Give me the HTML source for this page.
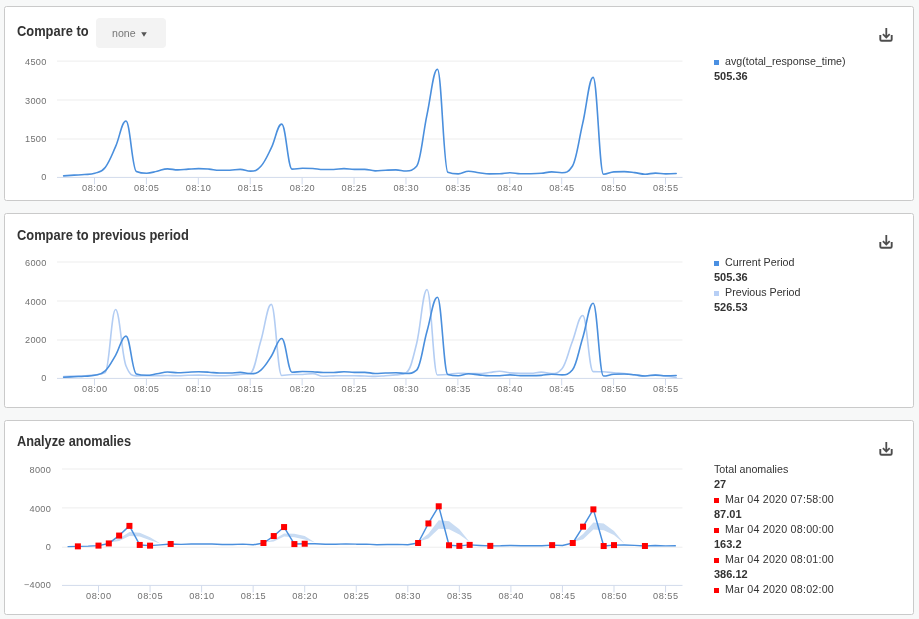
<!DOCTYPE html>
<html><head><meta charset="utf-8"><style>
html,body{margin:0;padding:0;}
body{width:919px;height:619px;background:#f7f8f8;position:relative;overflow:hidden;font-family:"Liberation Sans", sans-serif;}
.card{position:absolute;left:4px;width:908px;height:193px;background:#fff;border:1px solid #cacaca;border-radius:2.5px;}
.t{position:absolute;font-weight:bold;font-size:14px;color:#333;white-space:nowrap;transform-origin:0 0;}
.dd{position:absolute;left:96px;top:18px;width:70px;height:30px;background:#f3f3f3;border-radius:4px;}
.dd span{position:absolute;left:16px;top:9px;font-size:10.6px;color:#777;}
.dd i{position:absolute;left:45px;top:14px;width:0;height:0;border-left:2.8px solid transparent;border-right:2.8px solid transparent;border-top:4.6px solid #555;}
.lg{position:absolute;left:714px;font-size:10.7px;color:#333;line-height:15px;white-space:nowrap;}
.lg div{height:15px;position:relative;}
.lg b{font-size:11px;}
.sq{display:inline-block;width:5px;height:5px;margin-right:6px;vertical-align:0px;}
svg{position:absolute;left:0;top:0;}
.yl{font-size:9.2px;fill:#707070;letter-spacing:0.25px;}
.xl{font-size:9.2px;fill:#707070;letter-spacing:0.5px;}
#w{position:absolute;left:0;top:0;width:919px;height:619px;will-change:transform;background:#f7f8f8;}
</style></head><body><div id="w">
<div class="card" style="top:6px"></div>
<div class="card" style="top:213px"></div>
<div class="card" style="top:420px"></div>
<div class="t" style="left:17px;top:23px;transform:scaleX(0.92)">Compare to</div>
<div class="dd"><span>none</span><svg width="70" height="30" style="position:absolute;left:0;top:0"><polygon points="45.2,14.2 50.8,14.2 48,18.8" fill="#555"/></svg></div>
<div class="t" style="left:17px;top:226.6px;transform:scaleX(0.92)">Compare to previous period</div>
<div class="t" style="left:17px;top:433.3px;transform:scaleX(0.91)">Analyze anomalies</div>
<div class="lg" style="top:54px">
<div><span class="sq" style="background:#4a90e2"></span>avg(total_response_time)</div>
<div><b>505.36</b></div>
</div>
<div class="lg" style="top:255px">
<div><span class="sq" style="background:#4a90e2"></span>Current Period</div>
<div><b>505.36</b></div>
<div><span class="sq" style="background:#b7cff5"></span>Previous Period</div>
<div><b>526.53</b></div>
</div>
<div class="lg" style="top:462px">
<div>Total anomalies</div>
<div><b>27</b></div>
<div style="letter-spacing:0.22px"><span class="sq" style="background:#f00"></span>Mar 04 2020 07:58:00</div>
<div><b>87.01</b></div>
<div style="letter-spacing:0.22px"><span class="sq" style="background:#f00"></span>Mar 04 2020 08:00:00</div>
<div><b>163.2</b></div>
<div style="letter-spacing:0.22px"><span class="sq" style="background:#f00"></span>Mar 04 2020 08:01:00</div>
<div><b>386.12</b></div>
<div style="letter-spacing:0.22px"><span class="sq" style="background:#f00"></span>Mar 04 2020 08:02:00</div>
</div>
<svg width="919" height="619" viewBox="0 0 919 619" font-family='"Liberation Sans", sans-serif'>
<rect x="57.00" y="138.50" width="625.50" height="1" fill="#ededed"/>
<rect x="57.00" y="99.50" width="625.50" height="1" fill="#ededed"/>
<rect x="57.00" y="60.60" width="625.50" height="1" fill="#ededed"/>
<rect x="57.00" y="176.90" width="625.50" height="1" fill="#d2dbec"/>
<text x="46.50" y="179.80" text-anchor="end" class="yl">0</text>
<text x="46.50" y="142.10" text-anchor="end" class="yl">1500</text>
<text x="46.50" y="104.00" text-anchor="end" class="yl">3000</text>
<text x="46.50" y="64.80" text-anchor="end" class="yl">4500</text>
<rect x="94.00" y="177.40" width="1" height="7" fill="#d2dbec"/>
<text x="94.80" y="191.00" text-anchor="middle" class="xl">08:00</text>
<rect x="145.91" y="177.40" width="1" height="7" fill="#d2dbec"/>
<text x="146.71" y="191.00" text-anchor="middle" class="xl">08:05</text>
<rect x="197.82" y="177.40" width="1" height="7" fill="#d2dbec"/>
<text x="198.62" y="191.00" text-anchor="middle" class="xl">08:10</text>
<rect x="249.73" y="177.40" width="1" height="7" fill="#d2dbec"/>
<text x="250.53" y="191.00" text-anchor="middle" class="xl">08:15</text>
<rect x="301.64" y="177.40" width="1" height="7" fill="#d2dbec"/>
<text x="302.44" y="191.00" text-anchor="middle" class="xl">08:20</text>
<rect x="353.55" y="177.40" width="1" height="7" fill="#d2dbec"/>
<text x="354.35" y="191.00" text-anchor="middle" class="xl">08:25</text>
<rect x="405.46" y="177.40" width="1" height="7" fill="#d2dbec"/>
<text x="406.26" y="191.00" text-anchor="middle" class="xl">08:30</text>
<rect x="457.37" y="177.40" width="1" height="7" fill="#d2dbec"/>
<text x="458.17" y="191.00" text-anchor="middle" class="xl">08:35</text>
<rect x="509.28" y="177.40" width="1" height="7" fill="#d2dbec"/>
<text x="510.08" y="191.00" text-anchor="middle" class="xl">08:40</text>
<rect x="561.19" y="177.40" width="1" height="7" fill="#d2dbec"/>
<text x="561.99" y="191.00" text-anchor="middle" class="xl">08:45</text>
<rect x="613.10" y="177.40" width="1" height="7" fill="#d2dbec"/>
<text x="613.90" y="191.00" text-anchor="middle" class="xl">08:50</text>
<rect x="665.01" y="177.40" width="1" height="7" fill="#d2dbec"/>
<text x="665.81" y="191.00" text-anchor="middle" class="xl">08:55</text>
<path d="M63.65 175.85 C63.65 175.85 69.88 175.41 74.04 175.15 C78.19 174.89 80.27 174.95 84.42 174.56 C88.57 174.16 90.65 174.56 94.80 173.19 C98.95 171.82 101.03 172.73 105.18 167.42 C109.33 162.12 111.41 155.92 115.56 146.65 C119.72 137.37 121.79 121.06 125.95 121.06 C130.10 121.06 132.18 169.65 136.33 171.46 C140.48 173.26 142.56 173.26 146.71 173.26 C150.86 173.26 152.94 172.08 157.09 171.20 C161.24 170.32 163.32 168.87 167.47 168.87 C171.63 168.87 173.70 169.91 177.86 169.91 C182.01 169.91 184.09 169.39 188.24 169.13 C192.39 168.87 194.47 168.61 198.62 168.61 C202.77 168.61 204.85 168.80 209.00 169.13 C213.15 169.46 215.23 170.24 219.38 170.24 C223.54 170.24 225.61 170.24 229.77 170.24 C233.92 170.24 236.00 169.34 240.15 169.34 C244.30 169.34 246.38 171.15 250.53 171.15 C254.68 171.15 256.76 170.93 260.91 166.29 C265.06 161.65 267.14 156.36 271.29 147.94 C275.45 139.51 277.52 124.16 281.68 124.16 C285.83 124.16 287.91 169.13 292.06 169.13 C296.21 169.13 298.29 168.23 302.44 168.23 C306.59 168.23 308.67 168.23 312.82 168.48 C316.97 168.74 319.05 169.52 323.20 169.52 C327.36 169.52 329.43 169.52 333.59 169.52 C337.74 169.52 339.82 168.61 343.97 168.61 C348.12 168.61 350.20 169.34 354.35 169.34 C358.50 169.34 360.58 169.34 364.73 169.34 C368.88 169.34 370.96 170.84 375.11 170.84 C379.27 170.84 381.34 170.43 385.50 170.24 C389.65 170.06 391.73 169.91 395.88 169.91 C400.03 169.91 402.11 170.94 406.26 170.94 C410.41 170.94 412.49 170.94 416.64 166.29 C420.79 161.64 422.87 134.01 427.02 114.60 C431.18 95.19 433.25 69.22 437.41 69.22 C441.56 69.22 443.64 170.71 447.79 172.31 C451.94 173.91 454.02 173.91 458.17 173.91 C462.32 173.91 464.40 171.30 468.55 171.30 C472.70 171.30 474.78 172.17 478.93 172.70 C483.09 173.22 485.16 173.91 489.32 173.91 C493.47 173.91 495.55 173.91 499.70 173.78 C503.85 173.65 505.93 172.70 510.08 172.70 C514.23 172.70 516.31 173.70 520.46 173.70 C524.61 173.70 526.69 173.70 530.84 173.70 C535.00 173.70 537.07 173.68 541.23 173.32 C545.38 172.95 547.46 171.90 551.61 171.90 C555.76 171.90 557.84 172.70 561.99 172.70 C566.14 172.70 568.22 172.70 572.37 166.29 C576.52 159.88 578.60 140.91 582.75 123.13 C586.91 105.35 588.98 77.38 593.14 77.38 C597.29 77.38 599.37 174.30 603.52 174.30 C607.67 174.30 609.75 172.10 613.90 171.84 C618.05 171.59 620.13 171.59 624.28 171.59 C628.43 171.59 630.51 172.07 634.66 172.59 C638.82 173.12 640.89 174.20 645.05 174.20 C649.20 174.20 651.28 173.08 655.43 173.08 C659.58 173.08 661.66 173.89 665.81 173.89 C669.96 173.89 676.19 173.50 676.19 173.50" fill="none" stroke="#4a8fdd" stroke-width="1.6" stroke-linejoin="round" stroke-linecap="round"/>
<rect x="57.00" y="339.50" width="625.50" height="1" fill="#ededed"/>
<rect x="57.00" y="300.50" width="625.50" height="1" fill="#ededed"/>
<rect x="57.00" y="261.50" width="625.50" height="1" fill="#ededed"/>
<rect x="57.00" y="377.90" width="625.50" height="1" fill="#d2dbec"/>
<text x="46.50" y="380.80" text-anchor="end" class="yl">0</text>
<text x="46.50" y="343.10" text-anchor="end" class="yl">2000</text>
<text x="46.50" y="305.00" text-anchor="end" class="yl">4000</text>
<text x="46.50" y="265.80" text-anchor="end" class="yl">6000</text>
<rect x="94.00" y="378.40" width="1" height="7" fill="#d2dbec"/>
<text x="94.80" y="391.70" text-anchor="middle" class="xl">08:00</text>
<rect x="145.91" y="378.40" width="1" height="7" fill="#d2dbec"/>
<text x="146.71" y="391.70" text-anchor="middle" class="xl">08:05</text>
<rect x="197.82" y="378.40" width="1" height="7" fill="#d2dbec"/>
<text x="198.62" y="391.70" text-anchor="middle" class="xl">08:10</text>
<rect x="249.73" y="378.40" width="1" height="7" fill="#d2dbec"/>
<text x="250.53" y="391.70" text-anchor="middle" class="xl">08:15</text>
<rect x="301.64" y="378.40" width="1" height="7" fill="#d2dbec"/>
<text x="302.44" y="391.70" text-anchor="middle" class="xl">08:20</text>
<rect x="353.55" y="378.40" width="1" height="7" fill="#d2dbec"/>
<text x="354.35" y="391.70" text-anchor="middle" class="xl">08:25</text>
<rect x="405.46" y="378.40" width="1" height="7" fill="#d2dbec"/>
<text x="406.26" y="391.70" text-anchor="middle" class="xl">08:30</text>
<rect x="457.37" y="378.40" width="1" height="7" fill="#d2dbec"/>
<text x="458.17" y="391.70" text-anchor="middle" class="xl">08:35</text>
<rect x="509.28" y="378.40" width="1" height="7" fill="#d2dbec"/>
<text x="510.08" y="391.70" text-anchor="middle" class="xl">08:40</text>
<rect x="561.19" y="378.40" width="1" height="7" fill="#d2dbec"/>
<text x="561.99" y="391.70" text-anchor="middle" class="xl">08:45</text>
<rect x="613.10" y="378.40" width="1" height="7" fill="#d2dbec"/>
<text x="613.90" y="391.70" text-anchor="middle" class="xl">08:50</text>
<rect x="665.01" y="378.40" width="1" height="7" fill="#d2dbec"/>
<text x="665.81" y="391.70" text-anchor="middle" class="xl">08:55</text>
<path d="M63.65 376.65 C63.65 376.65 69.88 376.28 74.04 376.11 C78.19 375.94 80.27 376.06 84.42 375.80 C88.57 375.54 90.65 375.46 94.80 374.81 C98.95 374.17 101.03 374.81 105.18 372.58 C109.33 370.35 111.41 309.53 115.56 309.53 C119.72 309.53 121.79 355.70 125.95 365.79 C130.10 375.88 132.18 375.88 136.33 375.88 C140.48 375.88 142.56 375.59 146.71 375.59 C150.86 375.59 152.94 375.68 157.09 375.68 C161.24 375.68 163.32 375.49 167.47 375.49 C171.63 375.49 173.70 375.68 177.86 375.68 C182.01 375.68 184.09 375.41 188.24 375.30 C192.39 375.18 194.47 375.10 198.62 375.10 C202.77 375.10 204.85 375.37 209.00 375.49 C213.15 375.61 215.23 375.68 219.38 375.68 C223.54 375.68 225.61 375.68 229.77 375.49 C233.92 375.30 236.00 375.02 240.15 374.52 C244.30 374.02 246.38 374.52 250.53 372.97 C254.68 371.42 256.76 354.29 260.91 340.57 C265.06 326.85 267.14 304.39 271.29 304.39 C275.45 304.39 277.52 375.49 281.68 375.49 C285.83 375.49 287.91 374.52 292.06 374.52 C296.21 374.52 298.29 374.52 302.44 374.52 C306.59 374.52 308.67 373.61 312.82 373.61 C316.97 373.61 319.05 376.21 323.20 376.21 C327.36 376.21 329.43 375.98 333.59 375.88 C337.74 375.77 339.82 375.68 343.97 375.68 C348.12 375.68 350.20 375.72 354.35 375.80 C358.50 375.88 360.58 375.95 364.73 376.07 C368.88 376.19 370.96 376.40 375.11 376.40 C379.27 376.40 381.34 375.98 385.50 375.68 C389.65 375.39 391.73 375.53 395.88 374.91 C400.03 374.29 402.11 374.91 406.26 372.58 C410.41 370.25 412.49 360.11 416.64 343.48 C420.79 326.85 422.87 289.43 427.02 289.43 C431.18 289.43 433.25 375.00 437.41 375.00 C441.56 375.00 443.64 374.88 447.79 374.52 C451.94 374.16 454.02 373.22 458.17 373.22 C462.32 373.22 464.40 373.61 468.55 373.61 C472.70 373.61 474.78 373.61 478.93 373.55 C483.09 373.49 485.16 372.99 489.32 372.52 C493.47 372.06 495.55 371.22 499.70 371.22 C503.85 371.22 505.93 372.60 510.08 372.91 C514.23 373.22 516.31 373.22 520.46 373.22 C524.61 373.22 526.69 373.22 530.84 373.22 C535.00 373.22 537.07 372.11 541.23 372.11 C545.38 372.11 547.46 373.61 551.61 373.61 C555.76 373.61 557.84 373.61 561.99 368.70 C566.14 363.79 568.22 352.17 572.37 341.54 C576.52 330.91 578.60 315.56 582.75 315.56 C586.91 315.56 588.98 371.42 593.14 371.61 C597.29 371.80 599.37 371.61 603.52 371.80 C607.67 372.00 609.75 372.45 613.90 372.81 C618.05 373.17 620.13 373.17 624.28 373.61 C628.43 374.05 630.51 374.55 634.66 375.00 C638.82 375.46 640.89 375.90 645.05 375.90 C649.20 375.90 651.28 374.71 655.43 374.71 C659.58 374.71 661.66 375.55 665.81 376.11 C669.96 376.67 676.19 377.51 676.19 377.51" fill="none" stroke="#b3cdf3" stroke-width="1.6" stroke-linejoin="round" stroke-linecap="round"/>
<path d="M63.65 377.24 C63.65 377.24 69.88 376.91 74.04 376.71 C78.19 376.52 80.27 376.56 84.42 376.27 C88.57 375.97 90.65 376.27 94.80 375.24 C98.95 374.21 101.03 374.90 105.18 370.91 C109.33 366.93 111.41 362.27 115.56 355.31 C119.72 348.35 121.79 336.11 125.95 336.11 C130.10 336.11 132.18 372.58 136.33 373.94 C140.48 375.30 142.56 375.30 146.71 375.30 C150.86 375.30 152.94 374.40 157.09 373.74 C161.24 373.08 163.32 372.00 167.47 372.00 C171.63 372.00 173.70 372.77 177.86 372.77 C182.01 372.77 184.09 372.39 188.24 372.19 C192.39 372.00 194.47 371.80 198.62 371.80 C202.77 371.80 204.85 371.95 209.00 372.19 C213.15 372.44 215.23 373.03 219.38 373.03 C223.54 373.03 225.61 373.03 229.77 373.03 C233.92 373.03 236.00 372.35 240.15 372.35 C244.30 372.35 246.38 373.71 250.53 373.71 C254.68 373.71 256.76 373.54 260.91 370.06 C265.06 366.57 267.14 362.61 271.29 356.28 C275.45 349.96 277.52 338.44 281.68 338.44 C285.83 338.44 287.91 372.19 292.06 372.19 C296.21 372.19 298.29 371.51 302.44 371.51 C306.59 371.51 308.67 371.51 312.82 371.71 C316.97 371.90 319.05 372.48 323.20 372.48 C327.36 372.48 329.43 372.48 333.59 372.48 C337.74 372.48 339.82 371.80 343.97 371.80 C348.12 371.80 350.20 372.35 354.35 372.35 C358.50 372.35 360.58 372.35 364.73 372.35 C368.88 372.35 370.96 373.47 375.11 373.47 C379.27 373.47 381.34 373.17 385.50 373.03 C389.65 372.89 391.73 372.77 395.88 372.77 C400.03 372.77 402.11 373.55 406.26 373.55 C410.41 373.55 412.49 373.55 416.64 370.06 C420.79 366.57 422.87 345.83 427.02 331.26 C431.18 316.68 433.25 297.19 437.41 297.19 C441.56 297.19 443.64 373.38 447.79 374.58 C451.94 375.78 454.02 375.78 458.17 375.78 C462.32 375.78 464.40 373.82 468.55 373.82 C472.70 373.82 474.78 374.48 478.93 374.87 C483.09 375.26 485.16 375.78 489.32 375.78 C493.47 375.78 495.55 375.78 499.70 375.68 C503.85 375.59 505.93 374.87 510.08 374.87 C514.23 374.87 516.31 375.63 520.46 375.63 C524.61 375.63 526.69 375.63 530.84 375.63 C535.00 375.63 537.07 375.61 541.23 375.33 C545.38 375.06 547.46 374.27 551.61 374.27 C555.76 374.27 557.84 374.87 561.99 374.87 C566.14 374.87 568.22 374.87 572.37 370.06 C576.52 365.25 578.60 351.01 582.75 337.66 C586.91 324.31 588.98 303.32 593.14 303.32 C597.29 303.32 599.37 376.07 603.52 376.07 C607.67 376.07 609.75 374.42 613.90 374.23 C618.05 374.03 620.13 374.03 624.28 374.03 C628.43 374.03 630.51 374.40 634.66 374.79 C638.82 375.18 640.89 375.99 645.05 375.99 C649.20 375.99 651.28 375.16 655.43 375.16 C659.58 375.16 661.66 375.76 665.81 375.76 C669.96 375.76 676.19 375.47 676.19 375.47" fill="none" stroke="#4a8fdd" stroke-width="1.6" stroke-linejoin="round" stroke-linecap="round"/>
<rect x="62.00" y="546.70" width="620.50" height="1" fill="#ededed"/>
<rect x="62.00" y="507.40" width="620.50" height="1" fill="#ededed"/>
<rect x="62.00" y="468.50" width="620.50" height="1" fill="#ededed"/>
<rect x="62.00" y="584.90" width="620.50" height="1" fill="#d2dbec"/>
<text x="51.00" y="588.20" text-anchor="end" class="yl">−4000</text>
<text x="51.00" y="550.20" text-anchor="end" class="yl">0</text>
<text x="51.00" y="512.00" text-anchor="end" class="yl">4000</text>
<text x="51.00" y="473.20" text-anchor="end" class="yl">8000</text>
<rect x="98.00" y="585.40" width="1" height="7" fill="#d2dbec"/>
<text x="98.80" y="598.90" text-anchor="middle" class="xl">08:00</text>
<rect x="149.55" y="585.40" width="1" height="7" fill="#d2dbec"/>
<text x="150.35" y="598.90" text-anchor="middle" class="xl">08:05</text>
<rect x="201.10" y="585.40" width="1" height="7" fill="#d2dbec"/>
<text x="201.90" y="598.90" text-anchor="middle" class="xl">08:10</text>
<rect x="252.65" y="585.40" width="1" height="7" fill="#d2dbec"/>
<text x="253.45" y="598.90" text-anchor="middle" class="xl">08:15</text>
<rect x="304.20" y="585.40" width="1" height="7" fill="#d2dbec"/>
<text x="305.00" y="598.90" text-anchor="middle" class="xl">08:20</text>
<rect x="355.75" y="585.40" width="1" height="7" fill="#d2dbec"/>
<text x="356.55" y="598.90" text-anchor="middle" class="xl">08:25</text>
<rect x="407.30" y="585.40" width="1" height="7" fill="#d2dbec"/>
<text x="408.10" y="598.90" text-anchor="middle" class="xl">08:30</text>
<rect x="458.85" y="585.40" width="1" height="7" fill="#d2dbec"/>
<text x="459.65" y="598.90" text-anchor="middle" class="xl">08:35</text>
<rect x="510.40" y="585.40" width="1" height="7" fill="#d2dbec"/>
<text x="511.20" y="598.90" text-anchor="middle" class="xl">08:40</text>
<rect x="561.95" y="585.40" width="1" height="7" fill="#d2dbec"/>
<text x="562.75" y="598.90" text-anchor="middle" class="xl">08:45</text>
<rect x="613.50" y="585.40" width="1" height="7" fill="#d2dbec"/>
<text x="614.30" y="598.90" text-anchor="middle" class="xl">08:50</text>
<rect x="665.05" y="585.40" width="1" height="7" fill="#d2dbec"/>
<text x="665.85" y="598.90" text-anchor="middle" class="xl">08:55</text>
<polygon points="108.81,542.51 119.12,538.60 129.43,532.10 139.74,532.70 150.05,537.30 160.36,543.51 160.36,543.51 150.05,540.20 139.74,536.60 129.43,536.00 119.12,540.90 108.81,542.51" fill="#c9dcf3"/>
<polygon points="263.46,542.51 273.77,539.60 284.08,533.40 294.39,533.70 304.70,536.00 315.01,542.51 315.01,542.51 304.70,539.60 294.39,537.30 284.08,536.60 273.77,541.50 263.46,542.51" fill="#c9dcf3"/>
<polygon points="418.11,541.70 428.42,533.70 438.73,520.30 449.04,521.20 459.35,529.20 469.66,542.10 469.66,542.10 459.35,534.60 449.04,529.20 438.73,528.80 428.42,538.60 418.11,541.70" fill="#c9dcf3"/>
<polygon points="572.76,542.00 583.07,533.90 593.38,522.60 603.69,523.40 614.00,531.10 624.31,543.60 624.31,543.60 614.00,535.10 603.69,530.30 593.38,529.50 583.07,539.20 572.76,542.00" fill="#c9dcf3"/>
<polyline points="67.57,546.61 77.88,546.35 88.19,546.12 98.50,545.61 108.81,543.43 119.12,535.57 129.43,525.89 139.74,544.95 150.05,545.64 160.36,544.85 170.67,543.97 180.98,544.37 191.29,544.07 201.60,543.88 211.91,544.07 222.22,544.49 232.53,544.49 242.84,544.15 253.15,544.83 263.46,543.00 273.77,536.06 284.08,527.06 294.39,544.07 304.70,543.73 315.01,543.83 325.32,544.22 335.63,544.22 345.94,543.88 356.25,544.15 366.56,544.15 376.87,544.72 387.18,544.49 397.49,544.37 407.80,544.76 418.11,543.00 428.42,523.45 438.73,506.28 449.04,545.27 459.35,545.88 469.66,544.89 479.97,545.42 490.28,545.88 500.59,545.83 510.90,545.42 521.21,545.80 531.52,545.80 541.83,545.66 552.14,545.12 562.45,545.42 572.76,543.00 583.07,526.67 593.38,509.37 603.69,546.03 614.00,545.10 624.31,545.00 634.62,545.38 644.93,545.99 655.24,545.57 665.55,545.87 675.86,545.72" fill="none" stroke="#4a8fdd" stroke-width="1.45" stroke-linejoin="round"/>
<rect x="74.88" y="543.35" width="6" height="6" fill="#ff0000"/>
<rect x="95.50" y="542.61" width="6" height="6" fill="#ff0000"/>
<rect x="105.81" y="540.43" width="6" height="6" fill="#ff0000"/>
<rect x="116.12" y="532.57" width="6" height="6" fill="#ff0000"/>
<rect x="126.43" y="522.89" width="6" height="6" fill="#ff0000"/>
<rect x="136.74" y="541.95" width="6" height="6" fill="#ff0000"/>
<rect x="147.05" y="542.64" width="6" height="6" fill="#ff0000"/>
<rect x="167.67" y="540.97" width="6" height="6" fill="#ff0000"/>
<rect x="260.46" y="540.00" width="6" height="6" fill="#ff0000"/>
<rect x="270.77" y="533.06" width="6" height="6" fill="#ff0000"/>
<rect x="281.08" y="524.06" width="6" height="6" fill="#ff0000"/>
<rect x="291.39" y="541.07" width="6" height="6" fill="#ff0000"/>
<rect x="301.70" y="540.73" width="6" height="6" fill="#ff0000"/>
<rect x="415.11" y="540.00" width="6" height="6" fill="#ff0000"/>
<rect x="425.42" y="520.45" width="6" height="6" fill="#ff0000"/>
<rect x="435.73" y="503.28" width="6" height="6" fill="#ff0000"/>
<rect x="446.04" y="542.27" width="6" height="6" fill="#ff0000"/>
<rect x="456.35" y="542.88" width="6" height="6" fill="#ff0000"/>
<rect x="466.66" y="541.89" width="6" height="6" fill="#ff0000"/>
<rect x="487.28" y="542.88" width="6" height="6" fill="#ff0000"/>
<rect x="549.14" y="542.12" width="6" height="6" fill="#ff0000"/>
<rect x="569.76" y="540.00" width="6" height="6" fill="#ff0000"/>
<rect x="580.07" y="523.67" width="6" height="6" fill="#ff0000"/>
<rect x="590.38" y="506.37" width="6" height="6" fill="#ff0000"/>
<rect x="600.69" y="543.03" width="6" height="6" fill="#ff0000"/>
<rect x="611.00" y="542.10" width="6" height="6" fill="#ff0000"/>
<rect x="641.93" y="542.99" width="6" height="6" fill="#ff0000"/>
<path d="M886.3 28.0 V37.4 M882.9 34.2 L886.3 37.6 L889.7 34.2" fill="none" stroke="#4d4d4d" stroke-width="1.8" stroke-linecap="butt" stroke-linejoin="miter"/><path d="M880.3 35.0 V39.4 Q880.3 40.7 881.6 40.7 H890.4 Q891.7 40.7 891.7 39.4 V35.0" fill="none" stroke="#4d4d4d" stroke-width="1.9"/>
<path d="M886.3 235.0 V244.4 M882.9 241.2 L886.3 244.6 L889.7 241.2" fill="none" stroke="#4d4d4d" stroke-width="1.8" stroke-linecap="butt" stroke-linejoin="miter"/><path d="M880.3 242.0 V246.4 Q880.3 247.7 881.6 247.7 H890.4 Q891.7 247.7 891.7 246.4 V242.0" fill="none" stroke="#4d4d4d" stroke-width="1.9"/>
<path d="M886.3 442.0 V451.4 M882.9 448.2 L886.3 451.6 L889.7 448.2" fill="none" stroke="#4d4d4d" stroke-width="1.8" stroke-linecap="butt" stroke-linejoin="miter"/><path d="M880.3 449.0 V453.4 Q880.3 454.7 881.6 454.7 H890.4 Q891.7 454.7 891.7 453.4 V449.0" fill="none" stroke="#4d4d4d" stroke-width="1.9"/>
</svg>
</div></body></html>
